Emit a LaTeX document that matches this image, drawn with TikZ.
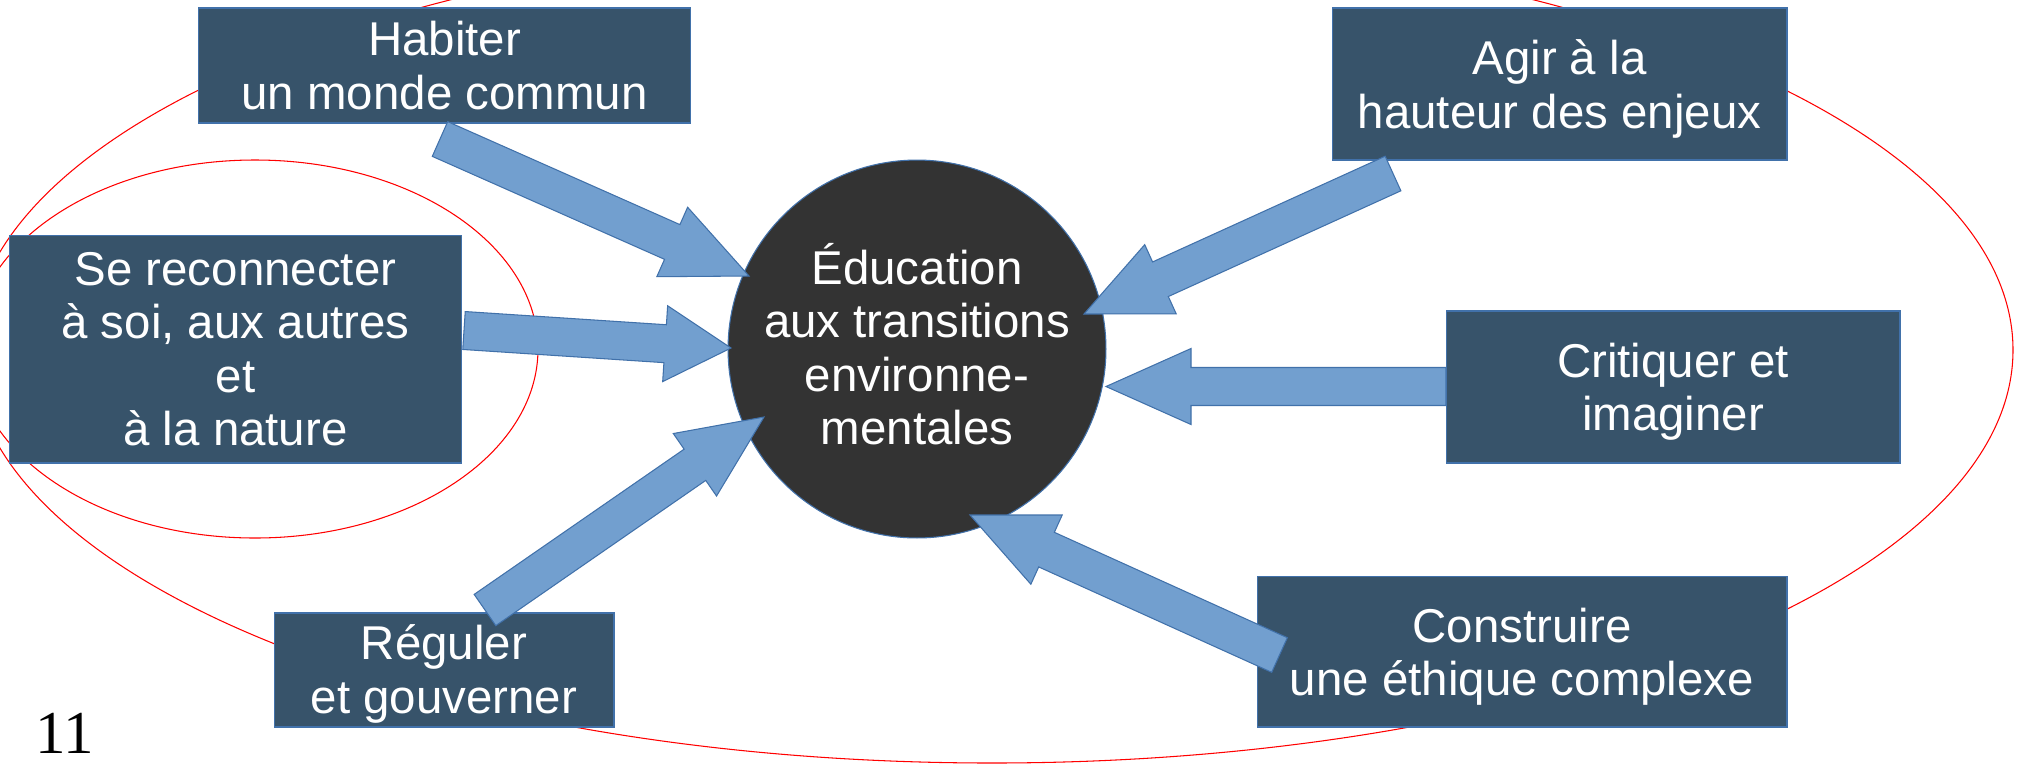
\documentclass[tikz,border=0pt]{standalone}
\usepackage{fontspec}
\setmainfont{Liberation Sans}
\newfontfamily\pgnumfont{Liberation Serif}
\usetikzlibrary{calc}
\definecolor{boxfill}{RGB}{55,83,106}
\definecolor{edgeblue}{RGB}{65,113,170}
\definecolor{arrfill}{RGB}{114,159,207}
\definecolor{circfill}{RGB}{51,51,51}
\tikzset{
  lbl/.style={font=\fontsize{27}{30.4}\selectfont, text=white, align=center, inner sep=0pt},
  bbox/.style={rectangle, fill=boxfill, draw=edgeblue, line width=0.6pt, inner sep=0pt},
  arr/.style={fill=arrfill, draw=edgeblue, line width=0.6pt, line join=miter},
  ring/.style={draw=red, line width=0.6pt},
}
\newcommand\blockarrow[3]{%
  \coordinate (#1#2h) at ($(#2)!#3!(#1)$);
  \draw[arr] ($(#1)!0.38cm!90:(#2)$) -- ($(#1#2h)!0.38cm!90:(#2)$) -- ($(#1#2h)!0.76cm!90:(#2)$) -- (#2)
    -- ($(#1#2h)!0.76cm!-90:(#2)$) -- ($(#1#2h)!0.38cm!-90:(#2)$) -- ($(#1)!0.38cm!-90:(#2)$) -- cycle;}
\begin{document}
\begin{tikzpicture}[x=0.02cm, y=-0.02cm]
\fill[white] (0,0) rectangle (2024,765);
\useasboundingbox (0,0) rectangle (2024,765);
% red ellipses (behind)
\draw[ring] (992,350) ellipse [x radius=1021, y radius=413];
\draw[ring] (255,349) ellipse [x radius=283, y radius=189];
% boxes
\node[bbox, minimum width=9.86cm, minimum height=2.30cm] (hab) at (444.5,65.5) {};
\node[lbl] (habT) at ($(hab)+(0,0)$) {Habiter\\un monde commun};
\node[bbox, minimum width=9.06cm, minimum height=4.56cm] (rec) at (235.5,349) {};
\node[lbl] (recT) at ($(rec)+(0,0)$) {Se reconnecter\\à soi, aux autres\\et\\à la nature};
\node[bbox, minimum width=6.80cm, minimum height=2.28cm] (reg) at (444,670) {};
\node[lbl] (regT) at ($(reg)+(0,4)$) {Réguler\\et gouverner};
\node[bbox, minimum width=9.10cm, minimum height=3.04cm] (agir) at (1559.5,84) {};
\node[lbl] (agirT) at ($(agir)+(0,5)$) {Agir à la\\hauteur des enjeux};
\node[bbox, minimum width=9.08cm, minimum height=3.04cm] (crit) at (1673,387) {};
\node[lbl] (critT) at ($(crit)+(0,5)$) {Critiquer et\\imaginer};
\node[bbox, minimum width=10.60cm, minimum height=3.02cm] (cons) at (1522,651.5) {};
\node[lbl] (consT) at ($(cons)+(0,5)$) {Construire\\une éthique complexe};
% centre
\node[circle, fill=circfill, draw=edgeblue, line width=0.6pt, minimum size=7.56cm, inner sep=0pt] (edu) at (917,349) {};
\node[lbl] (eduT) at ($(edu)+(0,-5)$) {Éducation\\aux transitions\\environne-\\mentales};
% arrow ends
\coordinate (t1) at (440,139);   \coordinate (p1) at (749,276);
\coordinate (t2) at (464,330.5); \coordinate (p2) at (731,348);
\coordinate (t3) at (485,610);   \coordinate (p3) at (764,417);
\coordinate (t4) at (1279.5,655);\coordinate (p4) at (970,515);
\coordinate (t5) at (1446,386.5);\coordinate (p5) at (1106,386.5);
\coordinate (t6) at (1393,173.5);\coordinate (p6) at (1084,314);
\blockarrow{t1}{p1}{1.68cm}
\blockarrow{t2}{p2}{1.32cm}
\blockarrow{t3}{p3}{1.68cm}
\blockarrow{t4}{p4}{1.68cm}
\blockarrow{t5}{p5}{1.70cm}
\blockarrow{t6}{p6}{1.68cm}
% page number
\node[anchor=base west, inner sep=0pt, font=\pgnumfont\fontsize{34.7}{40}\selectfont] (pg) at (35,753) {11};
\end{tikzpicture}
\end{document}
